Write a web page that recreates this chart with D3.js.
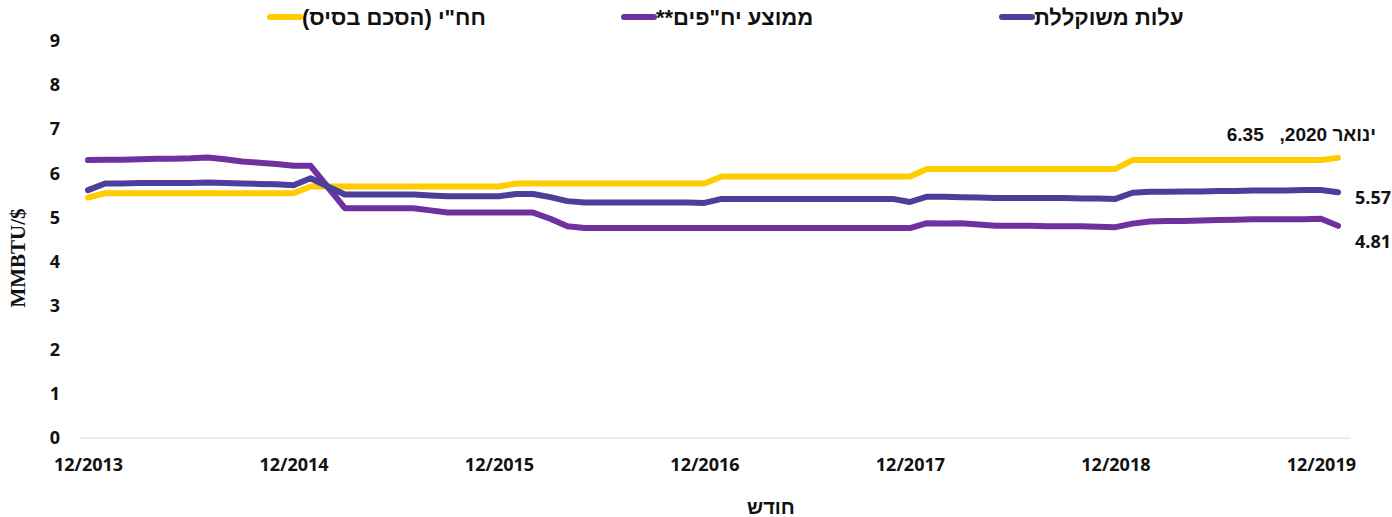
<!DOCTYPE html>
<html>
<head>
<meta charset="utf-8">
<script src="https://cdn.jsdelivr.net/npm/d3@7"></script>
<style>
  body { margin: 0; background: #fff; }
  text { font-family: "Open Sans", "Liberation Sans", "DejaVu Sans", sans-serif; font-weight: 700; fill: #111; }
  .heb { font-family: "Liberation Sans", "Open Sans", sans-serif; }
</style>
</head>
<body>
<svg id="chart" width="1392" height="517"></svg>
<script>
// monthly points, 12/2013 .. 1/2020
const startYear = 2013, startMonth = 12, pointCount = 74;
const tickLabels = ["12/2013", "12/2014", "12/2015", "12/2016", "12/2017", "12/2018", "12/2019"];
const yTicks = [0, 1, 2, 3, 4, 5, 6, 7, 8, 9];

// חח"י (הסכם בסיס)
const iecValues = [
  5.45,
  5.55, 5.55, 5.55, 5.55, 5.55, 5.55, 5.55, 5.55, 5.55, 5.55, 5.55, 5.55,
  5.70, 5.70, 5.70, 5.70, 5.70, 5.70, 5.70, 5.70, 5.70, 5.70, 5.70, 5.70,
  5.77, 5.77, 5.77, 5.77, 5.77, 5.77, 5.77, 5.77, 5.77, 5.77, 5.77, 5.77,
  5.93, 5.93, 5.93, 5.93, 5.93, 5.93, 5.93, 5.93, 5.93, 5.93, 5.93, 5.93,
  6.10, 6.10, 6.10, 6.10, 6.10, 6.10, 6.10, 6.10, 6.10, 6.10, 6.10, 6.10,
  6.30, 6.30, 6.30, 6.30, 6.30, 6.30, 6.30, 6.30, 6.30, 6.30, 6.30, 6.30,
  6.35
];
// ממוצע יח"פים**
const ippValues = [
  6.30,
  6.31, 6.31, 6.32, 6.33, 6.33, 6.34, 6.36, 6.32, 6.27, 6.24, 6.21, 6.17,
  6.17, 5.69, 5.21, 5.21, 5.21, 5.21, 5.21, 5.16, 5.11, 5.11, 5.11, 5.11,
  5.11, 5.11, 4.97, 4.80, 4.76, 4.76, 4.76, 4.76, 4.76, 4.76, 4.76, 4.76,
  4.76, 4.76, 4.76, 4.76, 4.76, 4.76, 4.76, 4.76, 4.76, 4.76, 4.76, 4.76,
  4.87, 4.86, 4.87, 4.84, 4.81, 4.81, 4.81, 4.80, 4.80, 4.80, 4.79, 4.78,
  4.86, 4.91, 4.92, 4.92, 4.93, 4.94, 4.95, 4.96, 4.96, 4.96, 4.96, 4.97,
  4.81
];
// עלות משוקללת
const weightedValues = [
  5.62,
  5.77, 5.77, 5.78, 5.78, 5.78, 5.78, 5.79, 5.78, 5.77, 5.76, 5.75, 5.73,
  5.89, 5.70, 5.52, 5.52, 5.52, 5.52, 5.52, 5.50, 5.48, 5.48, 5.48, 5.48,
  5.53, 5.53, 5.46, 5.37, 5.34, 5.34, 5.34, 5.34, 5.34, 5.34, 5.34, 5.33,
  5.42, 5.42, 5.42, 5.42, 5.42, 5.42, 5.42, 5.42, 5.42, 5.42, 5.42, 5.35,
  5.47, 5.47, 5.46, 5.45, 5.44, 5.44, 5.44, 5.44, 5.44, 5.43, 5.43, 5.42,
  5.56, 5.58, 5.58, 5.59, 5.59, 5.60, 5.60, 5.61, 5.61, 5.61, 5.62, 5.62,
  5.57
];

const seriesNames = ["חח\"י (הסכם בסיס)", "ממוצע יח\"פים**", "עלות משוקללת"];
const seriesColors = ["#ffcc00", "#7030a0", "#4b3f9b"];

const months = d3.range(pointCount).map(i => {
  const m = (startMonth - 1 + i) % 12 + 1;
  const y = startYear + Math.floor((startMonth - 1 + i) / 12);
  return m + "/" + y;
});

const series = [
  { name: seriesNames[0], color: seriesColors[0], values: iecValues },
  { name: seriesNames[1], color: seriesColors[1], values: ippValues },
  { name: seriesNames[2], color: seriesColors[2], values: weightedValues }
];

const svg = d3.select("#chart");
const x = d3.scalePoint().domain(months).range([88, 1338]);
const y = d3.scaleLinear().domain([0, 9]).range([438, 41]);

// baseline
svg.append("line")
  .attr("x1", 80).attr("x2", 1350)
  .attr("y1", y(0)).attr("y2", y(0))
  .attr("stroke", "#d9d9d9").attr("stroke-width", 1);

// y axis
const yAxis = svg.append("g").attr("transform", "translate(55,0)")
  .call(d3.axisLeft(y).tickValues(yTicks).tickSize(0).tickFormat(d3.format("d")));
yAxis.select(".domain").remove();
yAxis.selectAll("text").attr("x", 0).attr("dx", 0)
  .style("text-anchor", "middle").style("font-size", "18px")
  .style("font-family", "'Open Sans', sans-serif").style("font-weight", 700).attr("fill", "#111");

// x axis
const xAxis = svg.append("g").attr("transform", "translate(0," + 465 + ")")
  .call(d3.axisBottom(x).tickValues(tickLabels).tickSize(0));
xAxis.select(".domain").remove();
xAxis.selectAll("text").attr("y", 0).attr("dy", "0.35em")
  .style("font-size", "18px").style("font-family", "'Open Sans', sans-serif")
  .style("font-weight", 700).attr("fill", "#111");

// axis titles
svg.append("text")
  .attr("transform", "translate(25,258) rotate(-90)")
  .attr("text-anchor", "middle")
  .style("font-family", "'Liberation Serif', 'DejaVu Serif', serif")
  .style("font-size", "21px")
  .text("MMBTU/$");

svg.append("text")
  .attr("class", "heb")
  .attr("x", 771).attr("y", 514)
  .attr("text-anchor", "middle")
  .style("font-size", "20px")
  .text("חודש");

// lines
const line = d3.line()
  .x((d, i) => x(months[i]))
  .y(d => y(d));

svg.selectAll(".series")
  .data(series)
  .enter()
  .append("path")
  .attr("class", "series")
  .attr("fill", "none")
  .attr("stroke", d => d.color)
  .attr("stroke-width", 6)
  .attr("stroke-linejoin", "round")
  .attr("stroke-linecap", "round")
  .attr("d", d => line(d.values));

// end labels
const last = pointCount - 1;
svg.append("text")
  .attr("class", "heb")
  .attr("x", 1376).attr("y", 141)
  .attr("direction", "rtl")
  .attr("text-anchor", "start")
  .style("font-size", "19px")
  .style("white-space", "pre")
  .text("ינואר " + "2020,   " + d3.format(".2f")(iecValues[last]));
svg.append("text")
  .attr("x", 1391).attr("y", y(weightedValues[last]) + 12)
  .attr("text-anchor", "end")
  .style("font-size", "18px")
  .text(d3.format(".2f")(weightedValues[last]));
svg.append("text")
  .attr("x", 1391).attr("y", y(ippValues[last]) + 22)
  .attr("text-anchor", "end")
  .style("font-size", "18px")
  .text(d3.format(".2f")(ippValues[last]));

// legend
const legendX = [270, 624, 1002];
const legend = svg.selectAll(".legend")
  .data(series)
  .enter()
  .append("g")
  .attr("class", "legend")
  .attr("transform", (d, i) => "translate(" + legendX[i] + ",17)");
legend.append("line")
  .attr("x1", 0).attr("x2", 30)
  .attr("stroke", d => d.color)
  .attr("stroke-width", 6)
  .attr("stroke-linecap", "round");
legend.append("text")
  .attr("class", "heb")
  .attr("x", 32).attr("y", 8)
  .attr("direction", "rtl")
  .attr("text-anchor", "end")
  .style("font-size", "22px")
  .text(d => d.name);
</script>
</body>
</html>
